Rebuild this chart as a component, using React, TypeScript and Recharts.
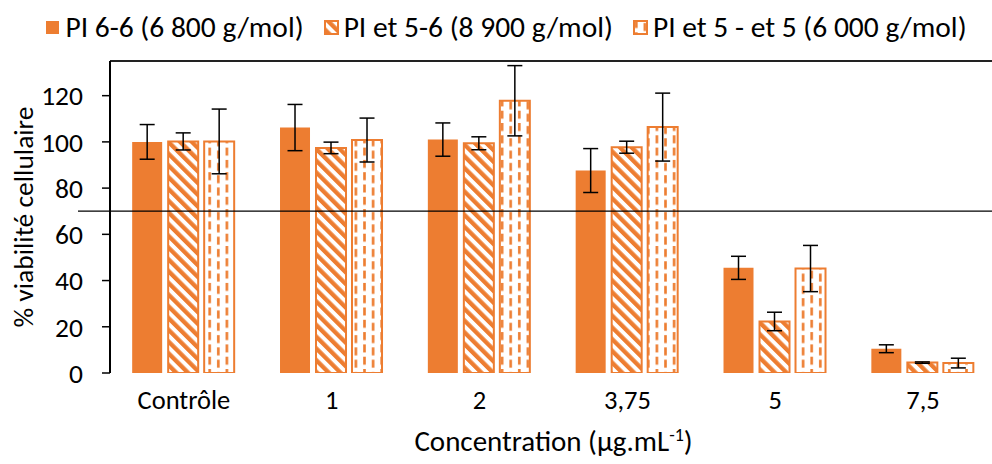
import React from 'react';
import { BarChart, Bar, XAxis, YAxis, ErrorBar, ReferenceLine, Legend } from 'recharts';

const categories = ['Contrôle', '1', '2', '3,75', '5', '7,5'];
const seriesNames = ['PI 6-6 (6 800 g/mol)', 'PI et 5-6 (8 900 g/mol)', 'PI et 5 - et 5 (6 000 g/mol)'];
const pi66 = [100, 106.2, 101, 87.6, 45.5, 10.5];
const pi66Err = [7.5, 10, 7.2, 9.5, 5, 1.7];
const pi56 = [100.2, 97.4, 99.4, 97.7, 22.3, 4.5];
const pi56Err = [3.7, 2.5, 2.8, 2.6, 4, 0.3];
const pi55 = [100.2, 100.8, 117.8, 106.4, 45.2, 4.3];
const pi55Err = [14, 9.5, 15.2, 14.7, 10, 2.1];
const yTicks = [0, 20, 40, 60, 80, 100, 120];
const yMax = 135;
const threshold = 70;
const boundaryTicks = [0, 1, 2, 3, 4, 5, 6];

const data = categories.map((name, i) => ({
  name,
  pi66: pi66[i],
  pi66Err: pi66Err[i],
  pi56: pi56[i],
  pi56Err: pi56Err[i],
  pi55: pi55[i],
  pi55Err: pi55Err[i],
}));

const ORANGE = '#ED7D31';
const FONT = 'Carlito, Calibri, Lato, sans-serif';
const TICK_FS = 26.5;
const YTICK_FS = 27.5;
const LEGEND_FS = 29.5;
const XTITLE_FS = 29;
const YTITLE_FS = 27.5;

const fills = [ORANGE, 'url(#stripes)', 'url(#dashes)'];

function PatternDefs() {
  return (
    <defs>
      <pattern id="stripes" patternUnits="userSpaceOnUse" width={8.3} height={8.3} patternTransform="rotate(-45)">
        <rect x={0} y={0} width={8.3} height={8.3} fill="#fff" />
        <rect x={0} y={0} width={4.3} height={8.3} fill={ORANGE} />
      </pattern>
      <pattern id="dashes" patternUnits="userSpaceOnUse" width={17.2} height={12.3}>
        <rect x={0} y={0} width={17.2} height={12.3} fill="#fff" />
        <rect x={2} y={0} width={2.6} height={8} fill={ORANGE} />
        <rect x={10.6} y={3} width={2.6} height={8} fill={ORANGE} />
      </pattern>
    </defs>
  );
}

function LegendContent() {
  return (
    <div
      style={{
        display: 'flex',
        justifyContent: 'center',
        alignItems: 'center',
        height: 30,
        fontFamily: FONT,
        fontSize: LEGEND_FS,
        color: '#000',
        whiteSpace: 'nowrap',
      }}
    >
      {seriesNames.map((label, i) => (
        <div key={label} style={{ display: 'flex', alignItems: 'center', marginRight: i < 2 ? 20 : 0 }}>
          <svg width={15} height={15} style={{ display: 'block' }}>
            <rect
              x={1}
              y={1}
              width={13}
              height={13}
              fill={fills[i]}
              stroke={i === 0 ? 'none' : ORANGE}
              strokeWidth={2}
            />
          </svg>
          <span style={{ marginLeft: 5 }}>{label}</span>
        </div>
      ))}
    </div>
  );
}

function YTitle(props: any) {
  const vb = props.viewBox || {};
  const x = vb.x + 23;
  const y = vb.y + vb.height / 2;
  return (
    <text
      x={x}
      y={y}
      transform={`rotate(-90, ${x}, ${y})`}
      textAnchor="middle"
      dominantBaseline="central"
      fontFamily={FONT}
      fontSize={YTITLE_FS}
      fill="#000"
    >
      % viabilité cellulaire
    </text>
  );
}

function XTitle(props: any) {
  const vb = props.viewBox || {};
  const x = vb.x + vb.width / 2;
  const y = vb.y + 78;
  return (
    <text x={x} y={y} textAnchor="middle" fontFamily={FONT} fontSize={XTITLE_FS} fill="#000">
      Concentration (µg.mL
      <tspan dy={-10} fontSize={18}>-1</tspan>
      <tspan dy={10}>)</tspan>
    </text>
  );
}

const thresholdShape = (p: any) => (
  <line x1={p.x1 - 32} y1={p.y1} x2={p.x2} y2={p.y2} stroke="#000" strokeWidth={1.3} />
);

export default function App() {
  return (
    <div
      style={{
        position: 'absolute',
        left: 0,
        top: 0,
        width: 992,
        height: 464,
        overflow: 'hidden',
        background: '#fff',
      }}
    >
      <BarChart
        width={1000}
        height={464}
        data={data}
        margin={{ top: 31, right: 3, left: 0, bottom: 0 }}
        barCategoryGap="15%"
        barGap={6}
      >
        <PatternDefs />
        <Legend
          verticalAlign="top"
          content={<LegendContent />}
          wrapperStyle={{ top: 12, left: 0, width: 1012 }}
        />
        <XAxis
          xAxisId="num"
          type="number"
          domain={[0, 6]}
          ticks={boundaryTicks}
          height={0}
          tickSize={9}
          tickFormatter={() => ''}
          axisLine={{ stroke: '#000', strokeWidth: 2 }}
          tickLine={{ stroke: '#000', strokeWidth: 1.5 }}
          allowDataOverflow
        />
        <XAxis
          xAxisId="cat"
          dataKey="name"
          height={91}
          axisLine={false}
          tickLine={false}
          tickSize={0}
          tickMargin={17}
          interval={0}
          tick={{ fill: '#000', fontSize: TICK_FS, fontFamily: FONT }}
          label={<XTitle />}
        />
        <YAxis
          domain={[0, yMax]}
          ticks={yTicks}
          width={110}
          tickSize={8}
          tickMargin={19}
          allowDataOverflow
          axisLine={{ stroke: '#000', strokeWidth: 2 }}
          tickLine={{ stroke: '#000', strokeWidth: 1.5 }}
          tick={{ fill: '#000', fontSize: YTICK_FS, fontFamily: FONT }}
          label={<YTitle />}
        />
        <ReferenceLine y={yMax} xAxisId="cat" stroke="#222" strokeWidth={1.8} />
        <Bar dataKey="pi66" name={seriesNames[0]} xAxisId="cat" fill={ORANGE} isAnimationActive={false}>
          <ErrorBar dataKey="pi66Err" width={7.5} stroke="#000" strokeWidth={1.5} />
        </Bar>
        <Bar
          dataKey="pi56"
          name={seriesNames[1]}
          xAxisId="cat"
          fill="url(#stripes)"
          stroke={ORANGE}
          strokeWidth={2}
          isAnimationActive={false}
        >
          <ErrorBar dataKey="pi56Err" width={7.5} stroke="#000" strokeWidth={1.5} />
        </Bar>
        <Bar
          dataKey="pi55"
          name={seriesNames[2]}
          xAxisId="cat"
          fill="url(#dashes)"
          stroke={ORANGE}
          strokeWidth={2}
          isAnimationActive={false}
        >
          <ErrorBar dataKey="pi55Err" width={7.5} stroke="#000" strokeWidth={1.5} />
        </Bar>
        <ReferenceLine y={threshold} xAxisId="cat" shape={thresholdShape} />
      </BarChart>
    </div>
  );
}
